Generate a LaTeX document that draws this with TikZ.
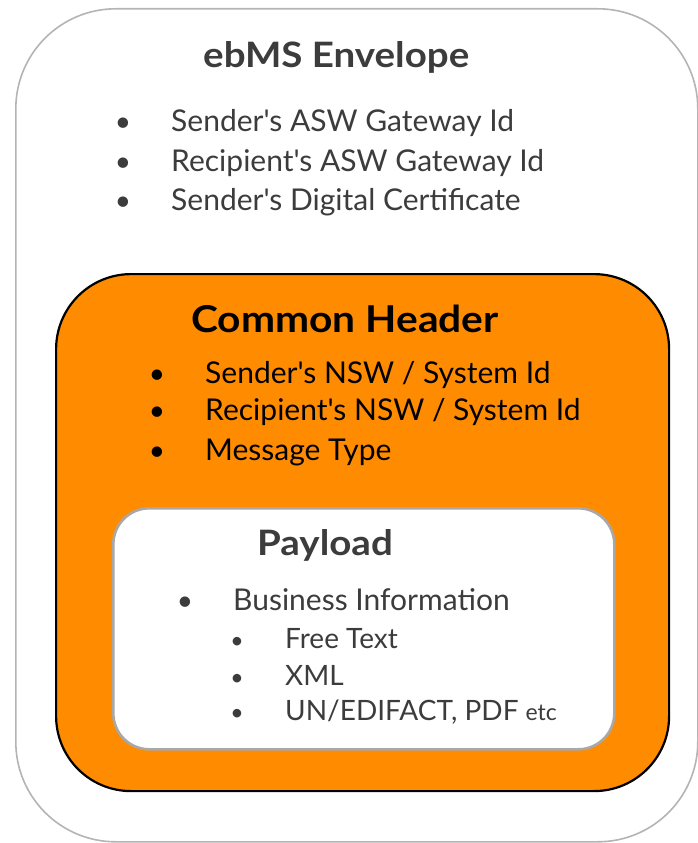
\documentclass[tikz,border=0pt]{standalone}
\usepackage{fontspec}
\setmainfont{Lato}[Ligatures=TeXOff]
\definecolor{envtext}{HTML}{3C3C3C}
\definecolor{orangefill}{HTML}{FF8C00}
\definecolor{envline}{HTML}{B4B4B4}
\definecolor{payline}{HTML}{A8A8A8}
\tikzset{
  envbox/.style={draw=envline, line width=1.6pt, fill=white, rounded corners=100pt, inner sep=0pt, anchor=north west},
  hdrbox/.style={draw=black, line width=2.2pt, fill=orangefill, rounded corners=75pt, inner sep=0pt, anchor=north west},
  paybox/.style={draw=payline, line width=2.6pt, fill=white, rounded corners=36pt, inner sep=0pt, anchor=north west},
  title/.style={font=\fontsize{35}{35}\selectfont\bfseries, anchor=base west, inner sep=0pt},
  item/.style={font=\fontsize{30}{30}\selectfont, anchor=base west, inner sep=0pt},
  subitem/.style={font=\fontsize{28}{28}\selectfont, anchor=base west, inner sep=0pt},
  dot/.style={font=\fontsize{28}{28}\selectfont, anchor=base, inner sep=0pt},
  subdot/.style={font=\fontsize{23}{23}\selectfont, anchor=base, inner sep=0pt},
}
\newcommand{\widetitle}[1]{\scalebox{1.1}[1]{#1}}
\begin{document}
\begin{tikzpicture}[x=1pt,y=-1pt]
\useasboundingbox (0,0) rectangle (697,843);
% boxes
\node[envbox, minimum width=682pt, minimum height=833pt] (env) at (15,8) {};
\node[hdrbox, minimum width=613pt, minimum height=517pt] (hdr) at (55,273) {};
\node[paybox, minimum width=501pt, minimum height=241pt] (pay) at (112,507) {};
% envelope text
\node[title, text=envtext] (envt) at (203,67) {\widetitle{ebMS Envelope}};
\node[dot, text=envtext] (eb1) at (123,131) {•};
\node[item, text=envtext] (e1) at (171,131) {Sender's ASW Gateway Id};
\node[dot, text=envtext] (eb2) at (123,171) {•};
\node[item, text=envtext] (e2) at (171,171) {Recipient's ASW Gateway Id};
\node[dot, text=envtext] (eb3) at (123,210) {•};
\node[item, text=envtext] (e3) at (171,210) {Sender's Digital Certificate};
% header text
\node[title, text=black, font=\fontsize{37}{37}\selectfont\bfseries] (hdrt) at (191,332) {\widetitle{Common Header}};
\node[dot, text=black] (hb1) at (157,383) {•};
\node[item, text=black] (h1) at (205,383) {Sender's NSW / System Id};
\node[dot, text=black] (hb2) at (157,420) {•};
\node[item, text=black] (h2) at (205,420) {Recipient's NSW / System Id};
\node[dot, text=black] (hb3) at (157,460) {•};
\node[item, text=black] (h3) at (205,460) {Message Type};
% payload text
\node[title, text=envtext] (payt) at (257,555) {\widetitle{Payload}};
\node[dot, text=envtext] (pb1) at (185,610) {•};
\node[item, text=envtext] (p1) at (233,610) {Business Information};
\node[subdot, text=envtext] (sb1) at (237,648) {•};
\node[subitem, text=envtext] (s1) at (285,648) {Free Text};
\node[subdot, text=envtext] (sb2) at (237,685) {•};
\node[subitem, text=envtext] (s2) at (285,685) {XML};
\node[subdot, text=envtext] (sb3) at (237,720) {•};
\node[subitem, text=envtext] (s3) at (285,720) {UN/EDIFACT, PDF {\fontsize{23}{23}\selectfont etc}};
\end{tikzpicture}
\end{document}
